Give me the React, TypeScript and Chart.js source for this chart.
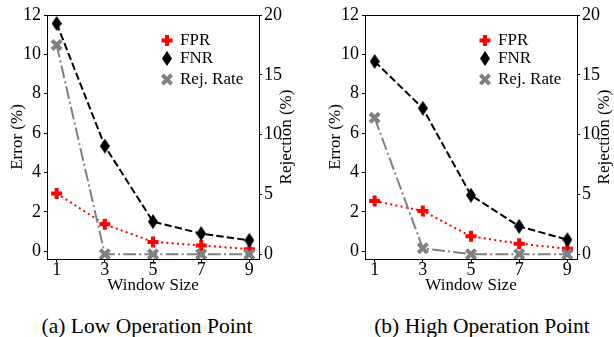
import React, { useEffect, useRef } from 'react';
import { Chart, registerables } from 'chart.js';

Chart.register(...registerables);

// ---- data ----
const windowSizes = [1, 3, 5, 7, 9];
const lowFPR = [2.93, 1.36, 0.47, 0.29, 0.1];
const lowFNR = [11.57, 5.34, 1.5, 0.89, 0.55];
const lowRej = [17.5, 0, 0, 0, 0];
const highFPR = [2.55, 2.04, 0.75, 0.38, 0.12];
const highFNR = [9.64, 7.26, 2.84, 1.26, 0.58];
const highRej = [11.4, 0.5, 0, 0, 0];
const errorTicks = [0, 2, 4, 6, 8, 10, 12];
const rejectionTicks = [0, 5, 10, 15, 20];
const seriesLabels = ['FPR', 'FNR', 'Rej. Rate'];
const captions = ['(a) Low Operation Point', '(b) High Operation Point'];
const xTitle = 'Window Size';
const leftTitle = 'Error (%)';
const rightTitle = 'Rejection (%)';

const FONT = '"Liberation Serif", "Times New Roman", serif';
const RED = '#ff0000';
const GRAY = '#808080';

function makeDiamond(): HTMLCanvasElement {
  const c = document.createElement('canvas');
  c.width = 10;
  c.height = 15;
  const g = c.getContext('2d')!;
  g.fillStyle = '#000';
  g.beginPath();
  g.moveTo(5, 0);
  g.lineTo(10, 7.5);
  g.lineTo(5, 15);
  g.lineTo(0, 7.5);
  g.closePath();
  g.fill();
  return c;
}

function drawMarker(ctx: CanvasRenderingContext2D, kind: number, x: number, y: number, diamond: HTMLCanvasElement) {
  ctx.save();
  ctx.lineCap = 'butt';
  if (kind === 0) {
    ctx.strokeStyle = RED;
    ctx.lineWidth = 4;
    ctx.beginPath();
    ctx.moveTo(x - 5.5, y);
    ctx.lineTo(x + 5.5, y);
    ctx.moveTo(x, y - 5.5);
    ctx.lineTo(x, y + 5.5);
    ctx.stroke();
  } else if (kind === 1) {
    ctx.drawImage(diamond, x - diamond.width / 2, y - diamond.height / 2);
  } else {
    const r = 6.5 * Math.SQRT1_2;
    ctx.strokeStyle = GRAY;
    ctx.lineWidth = 4;
    ctx.beginPath();
    ctx.moveTo(x - r, y - r);
    ctx.lineTo(x + r, y + r);
    ctx.moveTo(x + r, y - r);
    ctx.lineTo(x - r, y + r);
    ctx.stroke();
  }
  ctx.restore();
}

type PanelProps = {
  fpr: number[];
  fnr: number[];
  rej: number[];
  left: number;
  width: number;
  yWidth: number;
  y1Width: number;
  titlePad: number;
};

function Panel({ fpr, fnr, rej, left, width, yWidth, y1Width, titlePad }: PanelProps) {
  const ref = useRef<HTMLCanvasElement | null>(null);
  useEffect(() => {
    if (!ref.current) return;
    const diamond = makeDiamond();
    const pts = (arr: number[]) => windowSizes.map((x, i) => ({ x, y: arr[i] }));
    const tickFont = { family: FONT, size: 18, lineHeight: 0.9 };
    const decor = {
      id: 'decor',
      afterDraw(chart: any) {
        const { ctx, chartArea: a } = chart;
        ctx.save();
        ctx.strokeStyle = '#000';
        ctx.lineWidth = 1;
        ctx.strokeRect(Math.round(a.left) + 0.5, Math.round(a.top) + 0.5, Math.round(a.right - a.left), Math.round(a.bottom - a.top));
        ctx.restore();
        // right axis title (reads bottom to top)
        ctx.save();
        ctx.translate(a.right + 28, (a.top + a.bottom) / 2);
        ctx.rotate(-Math.PI / 2);
        ctx.font = '17px ' + FONT;
        ctx.fillStyle = '#000';
        ctx.textAlign = 'center';
        ctx.textBaseline = 'middle';
        ctx.fillText(rightTitle, 0, 0);
        ctx.restore();
        // legend
        const rows = [25.5, 43.5, 64.5];
        seriesLabels.forEach((label, i) => {
          const y = a.top + rows[i];
          drawMarker(ctx, i, a.right - 92, y, diamond);
          ctx.save();
          ctx.font = '17px ' + FONT;
          ctx.fillStyle = '#000';
          ctx.textAlign = 'left';
          ctx.textBaseline = 'middle';
          ctx.fillText(label, a.right - 79, y);
          ctx.restore();
        });
      },
    };
    const chart = new Chart(ref.current, {
      type: 'line',
      data: {
        datasets: [
          {
            label: seriesLabels[0],
            data: pts(fpr),
            yAxisID: 'y',
            borderColor: RED,
            borderWidth: 2,
            borderDash: [2, 3.3],
            pointStyle: 'cross',
            pointRadius: 5.5,
            pointBorderWidth: 4,
            pointBorderColor: RED,
            pointBackgroundColor: RED,
            clip: false,
            order: 2,
          },
          {
            label: seriesLabels[1],
            data: pts(fnr),
            yAxisID: 'y',
            borderColor: '#000',
            borderWidth: 2,
            borderDash: [7.4, 3.2],
            pointStyle: diamond,
            pointRadius: 5,
            clip: false,
            order: 1,
          },
          {
            label: seriesLabels[2],
            data: pts(rej),
            yAxisID: 'y1',
            borderColor: GRAY,
            borderWidth: 2,
            borderDash: [12.8, 3.2, 2, 3.2],
            pointStyle: 'crossRot',
            pointRadius: 6.5,
            pointBorderWidth: 4,
            pointBorderColor: GRAY,
            pointBackgroundColor: GRAY,
            clip: false,
            order: 0,
          },
        ] as any,
      },
      options: {
        animation: false,
        responsive: false,
        maintainAspectRatio: false,
        events: [],
        layout: { padding: { top: 15, left: 0, right: 0, bottom: 0 } },
        plugins: { legend: { display: false }, tooltip: { enabled: false } },
        scales: {
          x: {
            type: 'linear',
            min: 0.6,
            max: 9.4,
            border: { display: false },
            grid: { drawOnChartArea: false, drawTicks: true, tickLength: 3, color: '#000' },
            ticks: { color: '#000', font: tickFont, padding: 0, autoSkip: false, maxRotation: 0 },
            title: { display: true, text: xTitle, color: '#000', font: { family: FONT, size: 17 }, padding: { top: 0, bottom: 4 } },
            afterBuildTicks: (s: any) => { s.ticks = windowSizes.map((v) => ({ value: v })); },
            afterFit: (s: any) => { s.height = 41; },
          },
          y: {
            type: 'linear',
            position: 'left',
            min: -0.4,
            max: 12,
            border: { display: false },
            grid: { drawOnChartArea: false, drawTicks: true, tickLength: 3, color: '#000' },
            ticks: { color: '#000', font: tickFont, padding: 3 },
            title: { display: true, text: leftTitle, color: '#000', font: { family: FONT, size: 17 }, padding: { top: titlePad, bottom: 0 } },
            afterBuildTicks: (s: any) => { s.ticks = errorTicks.map((v) => ({ value: v })); },
            afterFit: (s: any) => { s.width = yWidth; },
          },
          y1: {
            type: 'linear',
            position: 'right',
            min: -0.4,
            max: 20,
            border: { display: false },
            grid: { drawOnChartArea: false, drawTicks: true, tickLength: 3, color: '#000' },
            ticks: { color: '#000', font: tickFont, padding: 2 },
            title: { display: false },
            afterBuildTicks: (s: any) => { s.ticks = rejectionTicks.map((v) => ({ value: v })); },
            afterFit: (s: any) => { s.width = y1Width; },
          },
        },
      } as any,
      plugins: [decor],
    });
    return () => chart.destroy();
  }, []);
  return (
    <canvas
      ref={ref}
      width={width}
      height={300}
      style={{ position: 'absolute', left, top: 0, width, height: 300 }}
    />
  );
}

export default function App() {
  const capStyle: React.CSSProperties = {
    position: 'absolute',
    top: 314,
    width: 294,
    textAlign: 'center',
    fontFamily: FONT,
    fontSize: 21.5,
    lineHeight: '24px',
    color: '#000',
    whiteSpace: 'nowrap',
  };
  return (
    <div style={{ position: 'absolute', left: 0, top: 0, width: 614, height: 337, overflow: 'hidden', background: '#fff' }}>
      <Panel fpr={lowFPR} fnr={lowFNR} rej={lowRej} left={0} width={307} yWidth={47} y1Width={48} titlePad={7} />
      <Panel fpr={highFPR} fnr={highFNR} rej={highRej} left={320} width={294} yWidth={45} y1Width={37} titlePad={5} />
      <div style={{ ...capStyle, left: 0 }}>{captions[0]}</div>
      <div style={{ ...capStyle, left: 335 }}>{captions[1]}</div>
    </div>
  );
}
